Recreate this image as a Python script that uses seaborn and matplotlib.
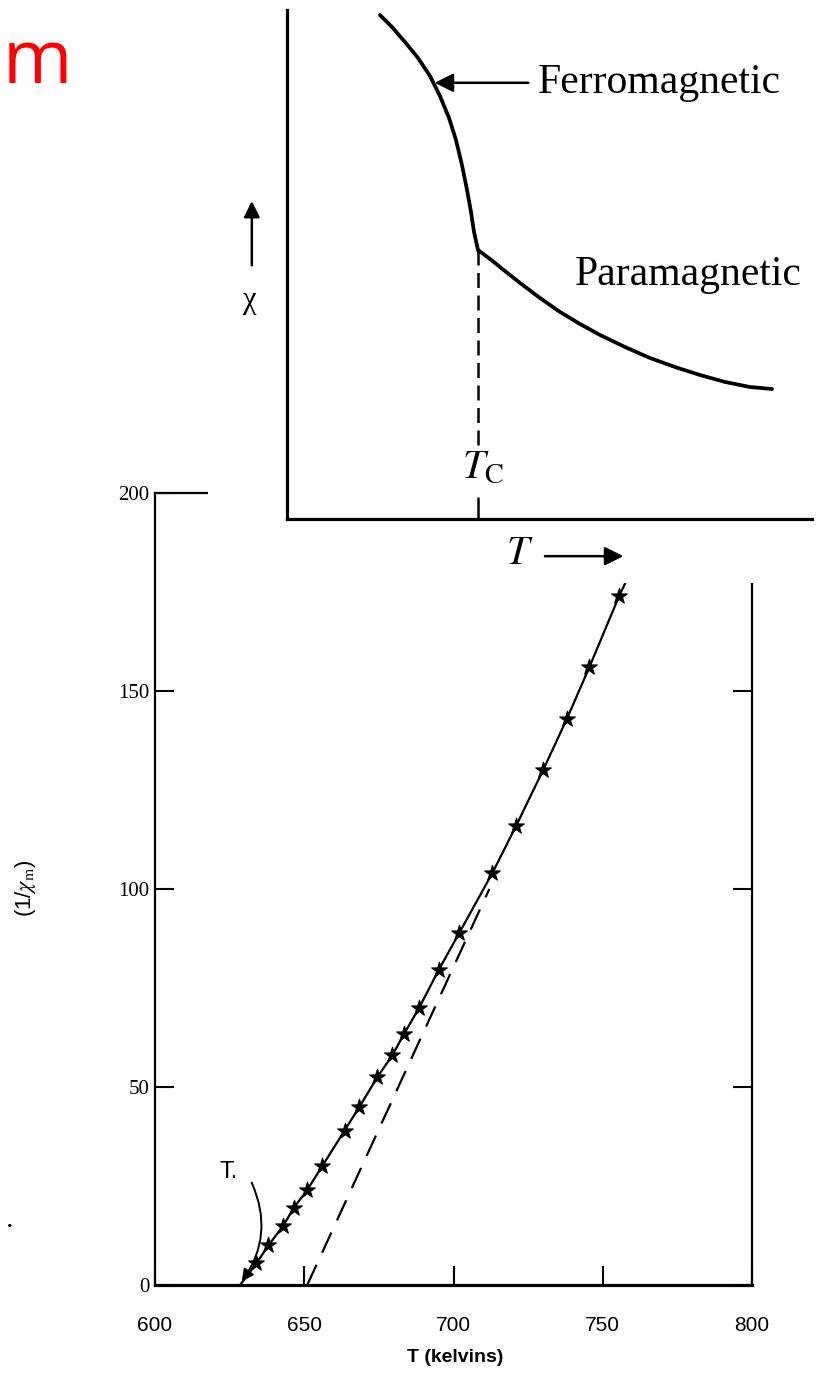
import matplotlib
matplotlib.use("Agg")
import matplotlib.pyplot as plt
import seaborn as sns
import pandas as pd
from matplotlib.patches import Rectangle

# ---------------- main plot data (1/chi vs T) ----------------
T_meas = [634, 638, 643, 646.5, 651, 656, 663.5, 668.5, 674.5, 679.5, 683.5,
          688.5, 695, 702, 713, 721, 730, 738, 745.5, 755.5]
inv_chi_meas = [5.5, 10, 15, 19.5, 24, 30, 39, 45, 52.5, 58, 63.5,
                70, 79.5, 89, 104, 116, 130, 143, 156, 174]
curve_T = [628.5] + T_meas + [758.0]
curve_inv_chi = [0.0] + inv_chi_meas + [178.0]
asym_T = [651.0, 712.0]
asym_inv_chi = [0.0, 100.0]
Tc_main = 628.5
x_ticks = [600, 650, 700, 750, 800]
x_tick_labels = ["600", "650", "700", "750", "800"]
y_ticks = [0, 50, 100, 150, 200]
y_tick_labels = ["0", "50", "100", "150", "200"]

# ---------------- inset schematic (chi vs T, arbitrary units) ----------------
ferro_T = [17.71, 20.0, 22.48, 24.95, 27.24, 29.14, 30.86, 32.19, 33.33,
           34.29, 35.05, 35.62, 36.38]
ferro_chi = [99.02, 96.66, 93.71, 90.57, 87.03, 83.10, 78.78, 74.46, 69.55,
             64.64, 60.31, 56.39, 52.85]
para_T = [36.38, 38.67, 41.52, 44.38, 48.19, 52.0, 55.81, 59.62, 64.38,
          69.14, 73.90, 78.67, 83.43, 88.19, 92.38]
para_chi = [52.85, 51.08, 48.72, 46.37, 43.42, 40.67, 38.31, 36.15, 33.79,
            31.63, 29.86, 28.29, 26.92, 25.93, 25.54]
Tc_inset = 36.38

sns.set_style("white")
plt.rcParams['font.family'] = ['Liberation Serif', 'DejaVu Serif']
plt.rcParams['mathtext.fontset'] = 'stix'
plt.rcParams['text.color'] = 'black'
plt.rcParams['xtick.color'] = 'black'
plt.rcParams['ytick.color'] = 'black'
plt.rcParams['xtick.labelcolor'] = 'black'
plt.rcParams['ytick.labelcolor'] = 'black'

W, H = 819, 1387
fig = plt.figure(figsize=(W / 100, H / 100), dpi=100)


def fr(x0, y0, x1, y1):
    return [x0 / W, 1 - y1 / H, (x1 - x0) / W, (y1 - y0) / H]


# ---------------- main axes ----------------
ax = fig.add_axes(fr(155, 493, 752, 1285))
ax.set_zorder(0)
sns.lineplot(x=curve_T, y=curve_inv_chi, ax=ax, color='black', lw=1.6,
             sort=False, estimator=None)
sns.lineplot(x=asym_T, y=asym_inv_chi, ax=ax, color='black', lw=1.6,
             sort=False, estimator=None)
ax.lines[-1].set_linestyle((0, (10, 6)))
sns.scatterplot(x=T_meas, y=inv_chi_meas, ax=ax, marker='*', s=140,
                color='black', edgecolor='black', linewidth=0.8, zorder=3)
ax.set_xlim(600, 800)
ax.set_ylim(0, 200)
ax.set_xticks(x_ticks)
ax.set_xticklabels(x_tick_labels, family='Liberation Sans', fontsize=15)
ax.set_yticks(y_ticks)
ax.set_yticklabels(y_tick_labels, fontsize=15)
ax.tick_params(axis='x', direction='in', length=14, width=1.5, pad=22,
               bottom=True, top=False)
ax.tick_params(axis='y', direction='in', length=14, width=1.5, pad=4,
               left=True, right=True, labelright=False)
for s in ['left', 'right', 'top']:
    ax.spines[s].set_linewidth(1.6)
    ax.spines[s].set_color('black')
ax.spines['bottom'].set_linewidth(2.3)
ax.spines['bottom'].set_color('black')
ax.set_xlabel('')
ax.set_ylabel('')

# Tc annotation
ax.text(621.5, 28.5, 'T.', family='Liberation Sans', fontsize=17,
        ha='left', va='center')
ax.annotate('', xy=(Tc_main, 0.3), xytext=(632.0, 26.5),
            arrowprops=dict(arrowstyle='-|>', color='black', lw=1.4,
                            mutation_scale=18,
                            connectionstyle='arc3,rad=-0.3'))

fig.text(455 / W, 1 - 1358 / H, 'T (kelvins)', family='Liberation Sans',
         fontweight='bold', fontsize=14, ha='center', va='center')
fig.text(25 / W, 1 - 888 / H, r'(1/$\chi_{\mathrm{m}}$)', fontsize=16,
         rotation=90, ha='center', va='center', family='Liberation Sans')

# white cover for the inset region
fig.add_artist(Rectangle((208 / W, 1 - 583 / H), (W - 208) / W, 583 / H,
                         transform=fig.transFigure, facecolor='white',
                         edgecolor='none', zorder=1))

# ---------------- inset axes ----------------
ax_in = fig.add_axes(fr(287, 10, 812, 519))
ax_in.set_zorder(2)
ax_in.patch.set_alpha(0)
sns.lineplot(x=ferro_T, y=ferro_chi, ax=ax_in, color='black', lw=2.7,
             sort=False, estimator=None, solid_capstyle='round',
             solid_joinstyle='round')
sns.lineplot(x=para_T, y=para_chi, ax=ax_in, color='black', lw=2.7,
             sort=False, estimator=None, solid_capstyle='round',
             solid_joinstyle='round')
ax_in.plot([Tc_inset, Tc_inset], [ferro_chi[-1], 14], color='black', lw=1.8,
           linestyle=(0, (6, 3)))
ax_in.plot([Tc_inset, Tc_inset], [4.2, 0], color='black', lw=1.8)
ax_in.set_xlim(0, 100)
ax_in.set_ylim(0, 100)
ax_in.set_xticks([])
ax_in.set_yticks([])
ax_in.set_xlabel('')
ax_in.set_ylabel('')
for s in ['top', 'right']:
    ax_in.spines[s].set_visible(False)
for s in ['left', 'bottom']:
    ax_in.spines[s].set_linewidth(2.3)
    ax_in.spines[s].set_color('black')

ax_in.text(47.8, 85.7, 'Ferromagnetic', fontsize=30, ha='left',
           va='center')
ax_in.annotate('', xy=(27.6, 85.7), xytext=(46.5, 85.7),
               arrowprops=dict(arrowstyle='-|>', color='black', lw=1.8,
                               mutation_scale=28))
ax_in.text(54.8, 47.9, 'Paramagnetic', fontsize=30, ha='left',
           va='center')
ax_in.text(Tc_inset + 0.9, 10.0, r'$T_{\mathrm{C}}$', fontsize=29,
           ha='center', va='center')
ax_in.text(44.4, -7.0, r'$T$', fontsize=29, ha='center', va='center')
ax_in.annotate('', xy=(64.6, -7.3), xytext=(48.6, -7.3),
               annotation_clip=False,
               arrowprops=dict(arrowstyle='-|>', color='black', lw=1.8,
                               mutation_scale=28))
ax_in.text(-7.0, 43.0, 'χ', fontsize=22, ha='center', va='center')
ax_in.annotate('', xy=(-6.7, 63.0), xytext=(-6.7, 49.3),
               annotation_clip=False,
               arrowprops=dict(arrowstyle='-|>', color='black', lw=1.8,
                               mutation_scale=24))

# slide remnants
fig.text(3 / W, 1 - 83 / H, 'm', color='#ff0000', fontsize=54,
         family='Open Sans', ha='left', va='baseline', zorder=3)
fig.text(10 / W, 1 - 1222 / H, '.', color='black', fontsize=16,
         fontweight='bold', ha='center', va='center', zorder=3)

fig.savefig('out.png', dpi=100)
